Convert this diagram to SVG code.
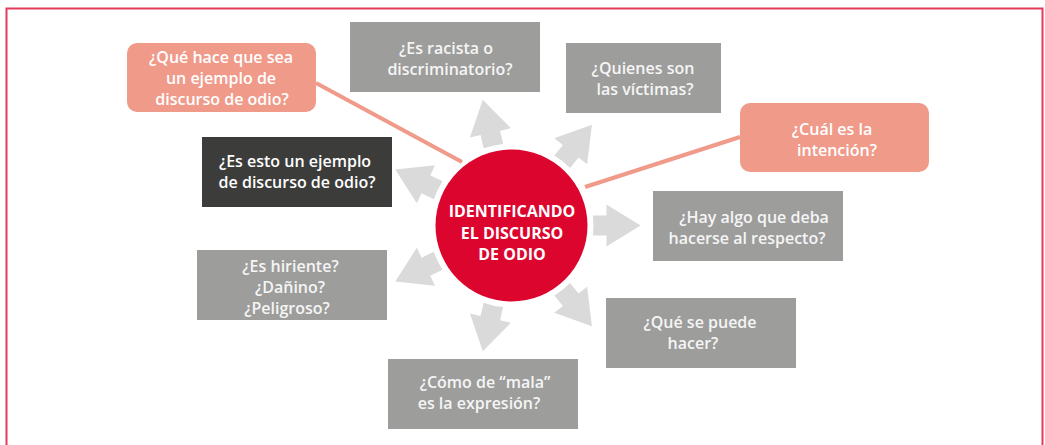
<svg xmlns="http://www.w3.org/2000/svg" width="1045" height="445" viewBox="0 0 1045 445">
<defs>
<style>
.frame{fill:none;stroke:#e43a5c;stroke-width:2}
.gray{fill:#9d9d9c}
.dark{fill:#3c3c3b}
.salmon{fill:#f09a8a}
.t{font-family:"Open Sans","Liberation Sans",sans-serif;font-size:16px;font-weight:600;fill:#f5f5f5;text-anchor:middle}
.tw{fill:#ffffff}
.ct{font-family:"Open Sans","Liberation Sans",sans-serif;font-size:16px;font-weight:700;fill:#ffffff;text-anchor:middle}
.link{stroke:#f09a8a;stroke-width:4;fill:none}
.arrow{fill:#dadada}
</style>
<path id="arr" d="M81.4,-10 L95,-10 L95,-21 L129,0 L95,21 L95,10 L81.4,10 A82,82 0 0 0 81.4,-10 Z"/>
</defs>
<rect class="frame" x="6.5" y="8.5" width="1036" height="460"/>
<g id="connectors">
<line class="link" x1="316" y1="83" x2="462" y2="162"/>
<line class="link" x1="740" y1="137" x2="585" y2="187"/>
<g transform="translate(511.5,225.5)">
<use href="#arr" class="arrow" transform="rotate(0)"/>
<use href="#arr" class="arrow" transform="rotate(51.43)"/>
<use href="#arr" class="arrow" transform="rotate(102.86)"/>
<use href="#arr" class="arrow" transform="rotate(154.29)"/>
<use href="#arr" class="arrow" transform="rotate(205.71)"/>
<use href="#arr" class="arrow" transform="rotate(257.14)"/>
<use href="#arr" class="arrow" transform="rotate(308.57)"/>
</g>
</g>
<g id="center">
<circle cx="511.5" cy="225.5" r="76" fill="#dc052d"/>
<text class="ct" x="512" y="217">IDENTIFICANDO</text>
<text class="ct" x="512" y="238.5">EL DISCURSO</text>
<text class="ct" x="512" y="260">DE ODIO</text>
</g>
<g id="n-que-hace">
<rect class="salmon" x="127" y="43" width="189" height="69" rx="10"/>
<text class="t tw" x="221" y="63">¿Qué hace que sea</text>
<text class="t tw" x="221" y="84">un ejemplo de</text>
<text class="t tw" x="222" y="105">discurso de odio?</text>
</g>
<g id="n-racista">
<rect class="gray" x="350" y="22" width="190" height="70"/>
<text class="t" x="446" y="54">¿Es racista o</text>
<text class="t" x="450" y="75">discriminatorio?</text>
</g>
<g id="n-victimas">
<rect class="gray" x="566" y="43" width="155" height="70"/>
<text class="t" x="643" y="74">¿Quienes son</text>
<text class="t" x="645" y="95">las víctimas?</text>
</g>
<g id="n-intencion">
<rect class="salmon" x="740" y="103" width="189" height="69" rx="10"/>
<text class="t tw" x="832" y="135">¿Cuál es la</text>
<text class="t tw" x="837" y="156">intención?</text>
</g>
<g id="n-ejemplo">
<rect class="dark" x="202" y="137" width="190" height="70"/>
<text class="t tw" x="295" y="167">¿Es esto un ejemplo</text>
<text class="t tw" x="297" y="188">de discurso de odio?</text>
</g>
<g id="n-hay-algo">
<rect class="gray" x="653" y="191" width="190" height="70"/>
<text class="t" x="754" y="223">¿Hay algo que deba</text>
<text class="t" x="747" y="244">hacerse al respecto?</text>
</g>
<g id="n-hiriente">
<rect class="gray" x="197" y="250" width="190" height="70"/>
<text class="t" x="290.5" y="272">¿Es hiriente?</text>
<text class="t" x="290" y="293">¿Dañino?</text>
<text class="t" x="287" y="314">¿Peligroso?</text>
</g>
<g id="n-que-hacer">
<rect class="gray" x="606" y="298" width="190" height="70"/>
<text class="t" x="700" y="328">¿Qué se puede</text>
<text class="t" x="693" y="349">hacer?</text>
</g>
<g id="n-mala">
<rect class="gray" x="388" y="359" width="190" height="70"/>
<text class="t" x="485" y="388">¿Cómo de “mala”</text>
<text class="t" x="479" y="409">es la expresión?</text>
</g>
</svg>
